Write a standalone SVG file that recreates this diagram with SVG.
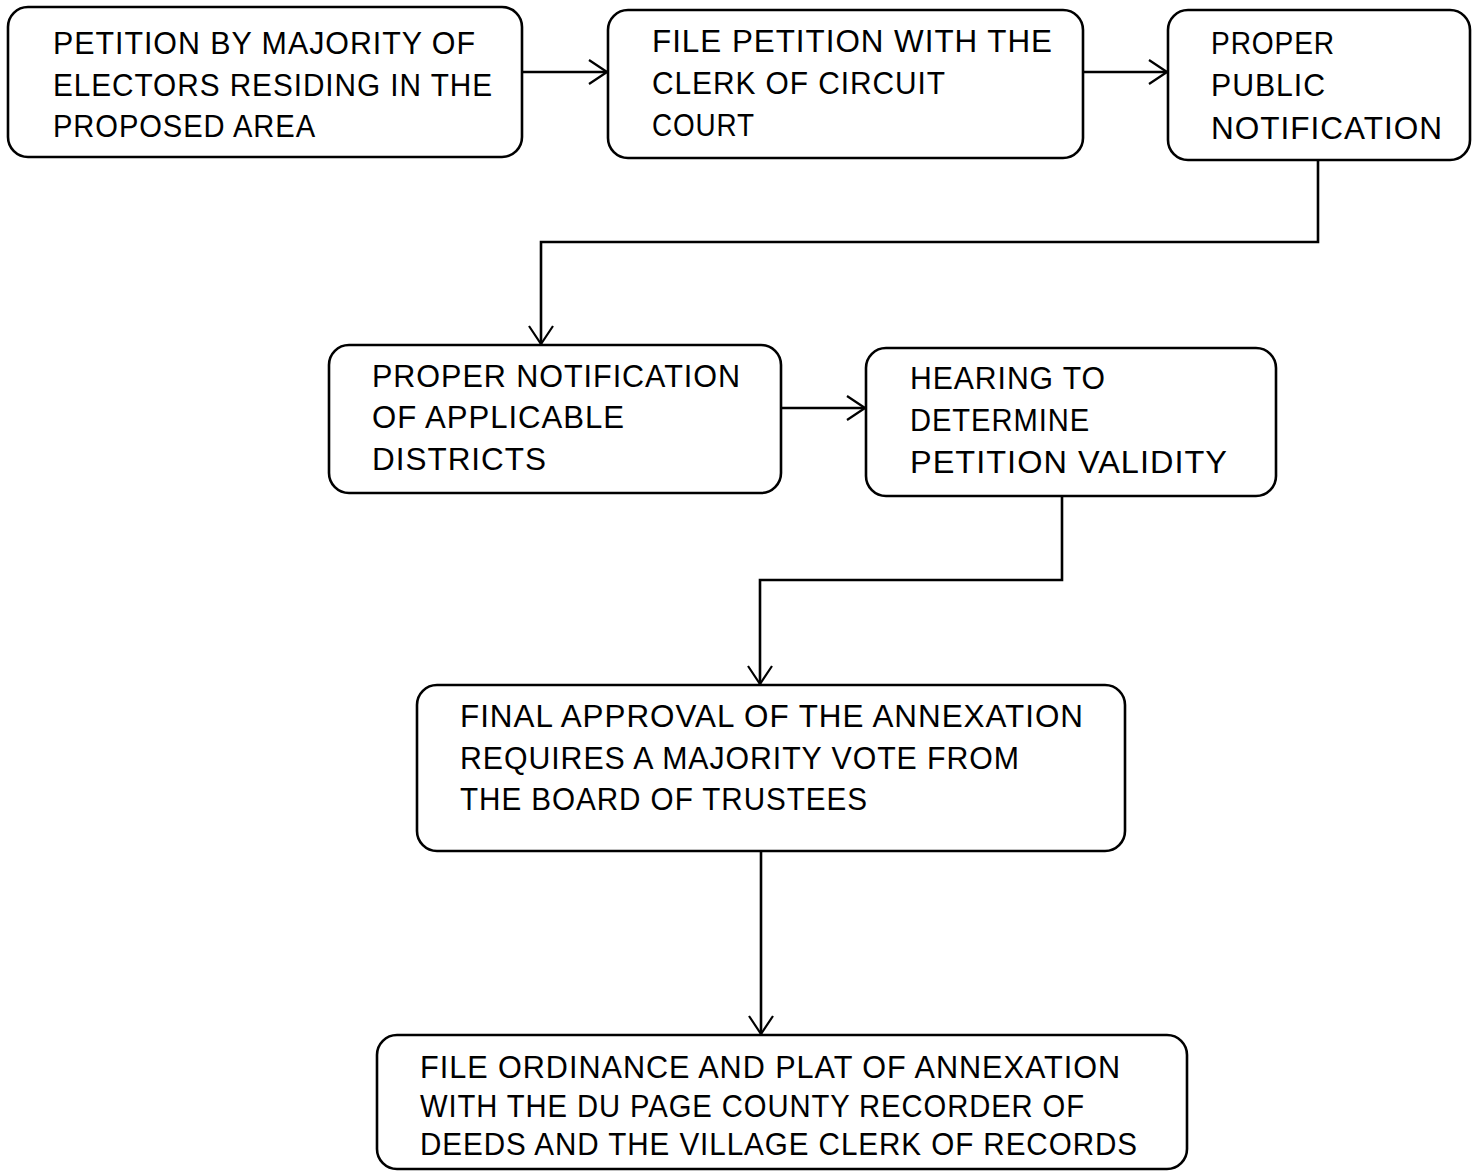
<svg xmlns="http://www.w3.org/2000/svg" width="1477" height="1172" viewBox="0 0 1477 1172">
  <defs>
    <style>
      .box { fill: #fff; stroke: #000; stroke-width: 2.6; }
      .lbl { font-family: "Liberation Sans", "DejaVu Sans", sans-serif; font-size: 32px; fill: #000; letter-spacing: 1px; }
      .wire { fill: none; stroke: #000; stroke-width: 2.6; }
    </style>
    <marker id="vhead" viewBox="0 0 22 28" refX="21" refY="14" markerWidth="22" markerHeight="28" markerUnits="userSpaceOnUse" orient="auto">
      <path d="M3,2 L21,14 L3,26" fill="none" stroke="#000" stroke-width="2.2"/>
    </marker>
  </defs>

  <rect width="1477" height="1172" fill="#fff"/>

  <!-- connectors -->
  <g id="connectors">
    <path class="wire" d="M522,72 H607" marker-end="url(#vhead)"/>
    <path class="wire" d="M1083,72 H1167" marker-end="url(#vhead)"/>
    <path class="wire" d="M1318,160 V242 H541 V344" marker-end="url(#vhead)"/>
    <path class="wire" d="M781,408 H865" marker-end="url(#vhead)"/>
    <path class="wire" d="M1062,496 V580 H760 V684" marker-end="url(#vhead)"/>
    <path class="wire" d="M761,851 V1034" marker-end="url(#vhead)"/>
  </g>

  <!-- step 1 -->
  <g id="petition">
    <rect class="box" x="8" y="7" width="514" height="150" rx="20"/>
    <text class="lbl" x="53" y="54" textLength="423" lengthAdjust="spacingAndGlyphs">PETITION BY MAJORITY OF</text>
    <text class="lbl" x="53" y="96" textLength="440" lengthAdjust="spacingAndGlyphs">ELECTORS RESIDING IN THE</text>
    <text class="lbl" x="53" y="137" textLength="263" lengthAdjust="spacingAndGlyphs">PROPOSED AREA</text>
  </g>

  <!-- step 2 -->
  <g id="file-petition">
    <rect class="box" x="608" y="10" width="475" height="148" rx="20"/>
    <text class="lbl" x="652" y="52" textLength="401" lengthAdjust="spacingAndGlyphs">FILE PETITION WITH THE</text>
    <text class="lbl" x="652" y="94" textLength="294" lengthAdjust="spacingAndGlyphs">CLERK OF CIRCUIT</text>
    <text class="lbl" x="652" y="136" textLength="103" lengthAdjust="spacingAndGlyphs">COURT</text>
  </g>

  <!-- step 3 -->
  <g id="public-notification">
    <rect class="box" x="1168" y="10" width="302" height="150" rx="20"/>
    <text class="lbl" x="1211" y="54" textLength="124" lengthAdjust="spacingAndGlyphs">PROPER</text>
    <text class="lbl" x="1211" y="96" textLength="115" lengthAdjust="spacingAndGlyphs">PUBLIC</text>
    <text class="lbl" x="1211" y="139" textLength="232" lengthAdjust="spacingAndGlyphs">NOTIFICATION</text>
  </g>

  <!-- step 4 -->
  <g id="district-notification">
    <rect class="box" x="329" y="345" width="452" height="148" rx="20"/>
    <text class="lbl" x="372" y="387" textLength="369" lengthAdjust="spacingAndGlyphs">PROPER NOTIFICATION</text>
    <text class="lbl" x="372" y="428" textLength="253" lengthAdjust="spacingAndGlyphs">OF APPLICABLE</text>
    <text class="lbl" x="372" y="470" textLength="175" lengthAdjust="spacingAndGlyphs">DISTRICTS</text>
  </g>

  <!-- step 5 -->
  <g id="hearing">
    <rect class="box" x="866" y="348" width="410" height="148" rx="20"/>
    <text class="lbl" x="910" y="389" textLength="196" lengthAdjust="spacingAndGlyphs">HEARING TO</text>
    <text class="lbl" x="910" y="431" textLength="180" lengthAdjust="spacingAndGlyphs">DETERMINE</text>
    <text class="lbl" x="910" y="473" textLength="318" lengthAdjust="spacingAndGlyphs">PETITION VALIDITY</text>
  </g>

  <!-- step 6 -->
  <g id="final-approval">
    <rect class="box" x="417" y="685" width="708" height="166" rx="20"/>
    <text class="lbl" x="460" y="727" textLength="624" lengthAdjust="spacingAndGlyphs">FINAL APPROVAL OF THE ANNEXATION</text>
    <text class="lbl" x="460" y="769" textLength="560" lengthAdjust="spacingAndGlyphs">REQUIRES A MAJORITY VOTE FROM</text>
    <text class="lbl" x="460" y="810" textLength="408" lengthAdjust="spacingAndGlyphs">THE BOARD OF TRUSTEES</text>
  </g>

  <!-- step 7 -->
  <g id="file-ordinance">
    <rect class="box" x="377" y="1035" width="810" height="134" rx="20"/>
    <text class="lbl" x="420" y="1078" textLength="701" lengthAdjust="spacingAndGlyphs">FILE ORDINANCE AND PLAT OF ANNEXATION</text>
    <text class="lbl" x="420" y="1117" textLength="665" lengthAdjust="spacingAndGlyphs">WITH THE DU PAGE COUNTY RECORDER OF</text>
    <text class="lbl" x="420" y="1155" textLength="718" lengthAdjust="spacingAndGlyphs">DEEDS AND THE VILLAGE CLERK OF RECORDS</text>
  </g>
</svg>
